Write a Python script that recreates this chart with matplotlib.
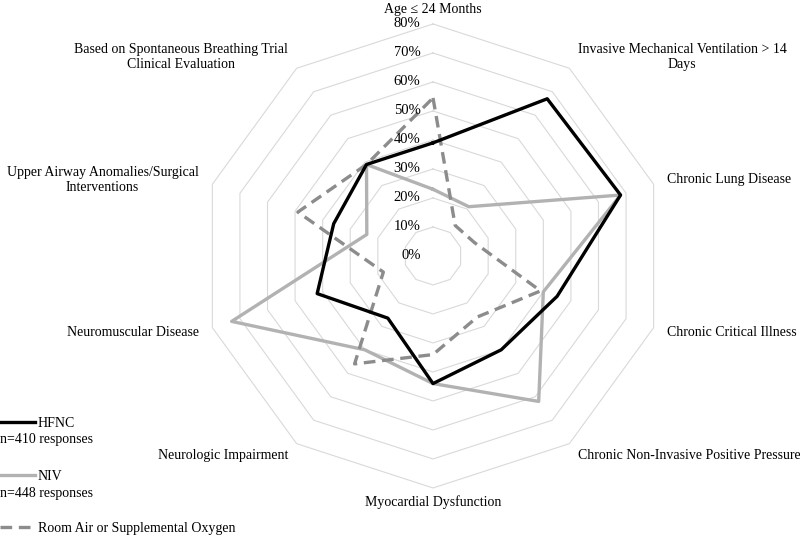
import numpy as np
import matplotlib
matplotlib.use("Agg")
import matplotlib.pyplot as plt
from matplotlib.lines import Line2D

plt.rcParams['font.family'] = ['Liberation Serif', 'DejaVu Serif']
plt.rcParams['font.size'] = 10

# categories, clockwise from the top
categories = [
    "Age \u2264 24 Months",
    "Invasive Mechanical Ventilation > 14\nDays",
    "Chronic Lung Disease",
    "Chronic Critical Illness",
    "Chronic Non-Invasive Positive Pressure",
    "Myocardial Dysfunction",
    "Neurologic Impairment",
    "Neuromuscular Disease",
    "Upper Airway Anomalies/Surgical\nInterventions",
    "Based on Spontaneous Breathing Trial\nClinical Evaluation",
]

hfnc = [0.39, 0.67, 0.68, 0.45, 0.40, 0.44, 0.265, 0.42, 0.36, 0.39]
niv = [0.23, 0.21, 0.68, 0.40, 0.62, 0.44, 0.40, 0.73, 0.24, 0.39]
room_air = [0.545, 0.13, 0.15, 0.39, 0.26, 0.34, 0.46, 0.18, 0.49, 0.39]

ring_levels = [0.1, 0.2, 0.3, 0.4, 0.5, 0.6, 0.7, 0.8]
tick_labels = ["0%", "10%", "20%", "30%", "40%", "50%", "60%", "70%", "80%"]
tick_values = [0.0] + ring_levels

n = len(categories)
angles = np.linspace(0, 2 * np.pi, n, endpoint=False)
closed = np.append(angles, angles[0])

fig = plt.figure(figsize=(8, 5.36), dpi=100)
ax = fig.add_axes([0.25125, 0.0896, 0.58, 0.8657], projection='polar')
ax.set_theta_zero_location('N')
ax.set_theta_direction(-1)
ax.set_ylim(0, 0.8)
ax.grid(False)
ax.set_xticks([])
ax.set_yticks([])
ax.spines['polar'].set_visible(False)
ax.patch.set_alpha(0)

# decagon gridlines
for lv in ring_levels:
    ax.plot(closed, [lv] * (n + 1), color='#d9d9d9', lw=0.8, zorder=0, clip_on=False)

# radial value labels next to the top axis
for v, t in zip(tick_values, tick_labels):
    ax.annotate(t, xy=(0, v), xytext=(-9, 0), textcoords='offset points',
                ha='right', va='center', fontsize=10.5, annotation_clip=False)

def close(vals):
    return list(vals) + [vals[0]]

ax.plot(closed, close(hfnc), color='black', lw=2.4, clip_on=False, zorder=3)
ax.plot(closed, close(niv), color='#b2b2b2', lw=2.4, clip_on=False, zorder=2)
ax.plot(closed, close(room_air), color='#8c8c8c', lw=2.4, ls=(0, (3.5, 2)),
        clip_on=False, zorder=2)

# category labels
for a, lab in zip(angles, categories):
    s = np.sin(a)
    if abs(s) < 0.01:
        ha = 'center'
    elif s > 0:
        ha = 'left'
    else:
        ha = 'right'
    ax.text(a, 0.85, lab, ha=ha, va='center', multialignment='center',
            fontsize=10)

handles = [
    Line2D([], [], color='black', lw=2.4),
    Line2D([], [], color='#b2b2b2', lw=2.4),
    Line2D([], [], color='#8c8c8c', lw=2.4, ls=(0, (3.5, 2))),
]
labels = ["HFNC", "NIV", "Room Air or Supplemental Oxygen"]
fig.legend(handles, labels, loc='upper left', bbox_to_anchor=(0.0, 0.222),
           frameon=False, handlelength=2.5, handletextpad=0.2,
           labelspacing=2.85, borderaxespad=0, borderpad=0, fontsize=10)

fig.text(0.0, 1 - 440 / 536, "n=410 responses", ha='left', va='center', fontsize=10)
fig.text(0.0, 1 - 493 / 536, "n=448 responses", ha='left', va='center', fontsize=10)

fig.savefig("out.png", dpi=100)
